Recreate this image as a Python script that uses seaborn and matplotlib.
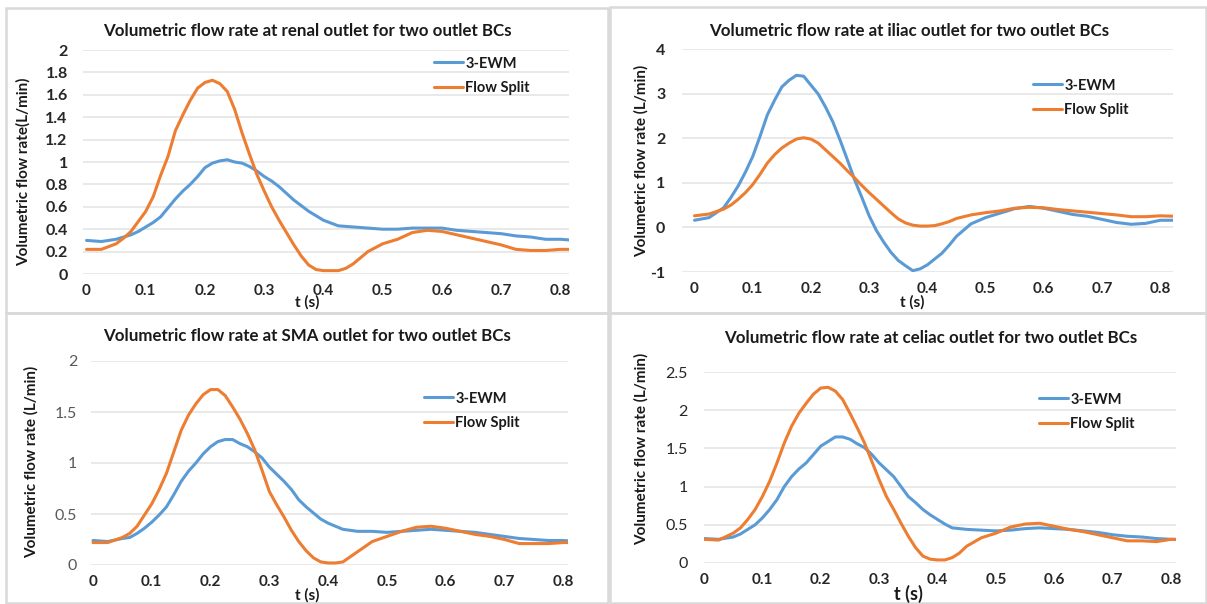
import numpy as np
import pandas as pd
import matplotlib
matplotlib.use("Agg")
import matplotlib.pyplot as plt
from matplotlib.patches import Rectangle
import seaborn as sns

# ---------------- data ----------------
T = [0, 0.025, 0.05, 0.0625, 0.075, 0.0875, 0.1, 0.1125, 0.125, 0.1375, 0.15,
     0.1625, 0.175, 0.1875, 0.2, 0.2125, 0.225, 0.2375, 0.25, 0.2625, 0.275,
     0.2875, 0.3, 0.3125, 0.325, 0.3375, 0.35, 0.3625, 0.375, 0.3875, 0.4,
     0.4125, 0.425, 0.4375, 0.45, 0.475, 0.5, 0.525, 0.55, 0.575, 0.6, 0.625,
     0.65, 0.675, 0.7, 0.725, 0.75, 0.775, 0.8, 0.825]

renal_ewm = [0.30, 0.29, 0.31, 0.33, 0.35, 0.38, 0.42, 0.46, 0.51, 0.59, 0.67,
             0.74, 0.80, 0.87, 0.95, 0.99, 1.01, 1.02, 1.00, 0.99, 0.96,
             0.92, 0.87, 0.83, 0.78, 0.72, 0.66, 0.61, 0.56, 0.52, 0.48,
             0.455, 0.43, 0.425, 0.42, 0.41, 0.40, 0.40, 0.41, 0.41, 0.41, 0.39,
             0.38, 0.37, 0.36, 0.34, 0.33, 0.31, 0.31, 0.30]
renal_split = [0.22, 0.22, 0.27, 0.32, 0.38, 0.47, 0.56, 0.69, 0.88, 1.05, 1.28,
               1.42, 1.55, 1.66, 1.71, 1.73, 1.70, 1.63, 1.47, 1.26, 1.07,
               0.89, 0.74, 0.60, 0.48, 0.37, 0.26, 0.16, 0.08, 0.04, 0.03,
               0.03, 0.03, 0.05, 0.09, 0.20, 0.27, 0.31, 0.37, 0.39, 0.38, 0.35,
               0.32, 0.29, 0.26, 0.22, 0.21, 0.21, 0.22, 0.22]

iliac_ewm = [0.16, 0.22, 0.44, 0.67, 0.93, 1.24, 1.59, 2.04, 2.52, 2.85, 3.15,
             3.30, 3.41, 3.39, 3.19, 2.99, 2.70, 2.37, 1.96, 1.52, 1.07,
             0.67, 0.26, -0.07, -0.33, -0.56, -0.74, -0.86, -0.97, -0.93, -0.84,
             -0.71, -0.58, -0.40, -0.20, 0.08, 0.22, 0.32, 0.42, 0.47, 0.43, 0.36,
             0.29, 0.25, 0.18, 0.11, 0.07, 0.09, 0.16, 0.16]
iliac_split = [0.26, 0.30, 0.41, 0.50, 0.63, 0.78, 0.96, 1.19, 1.44, 1.63, 1.78,
               1.89, 1.98, 2.01, 1.98, 1.89, 1.74, 1.59, 1.44, 1.27, 1.11,
               0.94, 0.78, 0.63, 0.48, 0.33, 0.19, 0.10, 0.05, 0.03, 0.03,
               0.04, 0.08, 0.13, 0.20, 0.28, 0.33, 0.37, 0.43, 0.45, 0.44, 0.40,
               0.37, 0.34, 0.31, 0.28, 0.24, 0.24, 0.26, 0.25]

sma_ewm = [0.24, 0.23, 0.26, 0.27, 0.31, 0.36, 0.42, 0.49, 0.57, 0.69, 0.82,
           0.92, 1.00, 1.09, 1.16, 1.21, 1.23, 1.23, 1.19, 1.16, 1.11,
           1.05, 0.96, 0.89, 0.82, 0.74, 0.64, 0.57, 0.51, 0.45, 0.41,
           0.38, 0.35, 0.34, 0.33, 0.33, 0.32, 0.33, 0.34, 0.35, 0.34, 0.33,
           0.32, 0.30, 0.28, 0.26, 0.25, 0.24, 0.24, 0.23]
sma_split = [0.22, 0.22, 0.27, 0.31, 0.38, 0.49, 0.60, 0.74, 0.90, 1.11, 1.32,
             1.47, 1.58, 1.67, 1.72, 1.72, 1.66, 1.55, 1.43, 1.29, 1.13,
             0.93, 0.72, 0.59, 0.47, 0.34, 0.23, 0.14, 0.07, 0.03, 0.02,
             0.02, 0.03, 0.08, 0.13, 0.23, 0.28, 0.33, 0.37, 0.38, 0.36, 0.33,
             0.30, 0.28, 0.25, 0.21, 0.21, 0.21, 0.22, 0.22]

celiac_ewm = [0.32, 0.31, 0.34, 0.38, 0.44, 0.50, 0.59, 0.70, 0.83, 1.00, 1.13,
              1.23, 1.31, 1.42, 1.53, 1.59, 1.65, 1.65, 1.62, 1.56, 1.51,
              1.42, 1.31, 1.22, 1.13, 1.00, 0.87, 0.79, 0.70, 0.63, 0.57,
              0.51, 0.46, 0.45, 0.44, 0.43, 0.42, 0.43, 0.45, 0.46, 0.45, 0.44,
              0.42, 0.40, 0.37, 0.35, 0.34, 0.32, 0.31, 0.31]
celiac_split = [0.31, 0.30, 0.39, 0.46, 0.57, 0.70, 0.87, 1.07, 1.31, 1.57, 1.79,
                1.96, 2.09, 2.21, 2.29, 2.30, 2.25, 2.14, 1.96, 1.77, 1.57,
                1.33, 1.09, 0.87, 0.70, 0.52, 0.35, 0.20, 0.09, 0.05, 0.04,
                0.04, 0.07, 0.13, 0.22, 0.33, 0.39, 0.47, 0.51, 0.52, 0.48, 0.44,
                0.41, 0.37, 0.33, 0.29, 0.29, 0.28, 0.31, 0.30]

series_names = ["3-EWM", "Flow Split"]
titles = ["Volumetric flow rate at renal outlet for two outlet BCs",
          "Volumetric flow rate at iliac outlet for two outlet BCs",
          "Volumetric flow rate at SMA outlet for two outlet BCs",
          "Volumetric flow rate at celiac outlet for two outlet BCs"]
ylabels = ["Volumetric flow rate(L/min)", "Volumetric flow rate (L/min)",
           "Volumetric flow rate (L/min)", "Volumetric flow rate (L/min)"]
xlabel = "t (s)"
xticks = [0, 0.1, 0.2, 0.3, 0.4, 0.5, 0.6, 0.7, 0.8]
xticklabels = ["0", "0.1", "0.2", "0.3", "0.4", "0.5", "0.6", "0.7", "0.8"]
yticks_list = [[0, 0.2, 0.4, 0.6, 0.8, 1, 1.2, 1.4, 1.6, 1.8, 2],
               [-1, 0, 1, 2, 3, 4],
               [0, 0.5, 1, 1.5, 2],
               [0, 0.5, 1, 1.5, 2, 2.5]]
yticklabels_list = [["0", "0.2", "0.4", "0.6", "0.8", "1", "1.2", "1.4", "1.6", "1.8", "2"],
                    ["-1", "0", "1", "2", "3", "4"],
                    ["0", "0.5", "1", "1.5", "2"],
                    ["0", "0.5", "1", "1.5", "2", "2.5"]]
panel_data = [(renal_ewm, renal_split), (iliac_ewm, iliac_split),
              (sma_ewm, sma_split), (celiac_ewm, celiac_split)]

# ---------------- style ----------------
sns.set_theme(style="white")
plt.rcParams["font.family"] = ["Lato", "DejaVu Sans"]
palette = {"3-EWM": "#5B9BD5", "Flow Split": "#ED7D31"}

W, H = 1207, 604
fig = plt.figure(figsize=(W / 100, H / 100), dpi=100)
fig.patch.set_facecolor("white")


def fx(px):
    return px / W


def fy(py):
    return 1 - py / H


# panel frames (pixel boxes: left, top, right, bottom)
frames = [(6, 8, 608, 313), (610, 7, 1206, 313), (6, 313, 608, 603), (610, 313, 1206, 603)]
for (l, t, r, b) in frames:
    fig.add_artist(Rectangle((fx(l), fy(b)), fx(r - l), (b - t) / H,
                             transform=fig.transFigure, fill=False,
                             edgecolor="#d9d9d9", linewidth=1.8))

# axes geometry in pixels: left, right, top, bottom ; plus data limits
axes_px = [(83, 569, 50, 274), (682, 1173, 49, 272), (91, 568, 361, 565), (704, 1176, 372, 563)]
xlims = [(-0.006, 0.8145), (-0.0215, 0.822), (-0.0034, 0.808), (0.002, 0.8085)]
ylims = [(0, 2), (-1, 4), (0, 2), (0, 2.5)]
ytick_pads = [11, 12, 10, 11.5]
ytick_colors = ["#262626", "#262626", "#595959", "#262626"]
ytick_weights = ["bold", "bold", "normal", "normal"]
title_pos = [(307, 31), (909, 31), (307, 336), (931, 338)]
ylabel_pos = [(23, 172), (641, 161), (31, 462), (641, 449)]
xlabel_pos = [(307, 302), (912, 302), (307, 595), (908, 594)]
xlabel_sizes = [11, 11, 11, 13]
legend_pos = [(434, 76), (1033, 98), (424, 411), (1039, 412)]

for i in range(4):
    l, r, t, b = axes_px[i]
    ax = fig.add_axes([fx(l), fy(b), fx(r - l), (b - t) / H])
    ewm, split = panel_data[i]
    df = pd.DataFrame({
        "t": T + T,
        "q": ewm + split,
        "series": [series_names[0]] * len(T) + [series_names[1]] * len(T),
    })
    sns.lineplot(data=df, x="t", y="q", hue="series", palette=palette,
                 errorbar=None, linewidth=2.2, ax=ax, legend=True, sort=True)
    ax.set_xlim(*xlims[i])
    ax.set_ylim(*ylims[i])
    ax.set_xticks(xticks)
    ax.set_xticklabels(xticklabels)
    ax.set_yticks(yticks_list[i])
    ax.set_yticklabels(yticklabels_list[i])
    for s in ax.spines.values():
        s.set_visible(False)
    ax.grid(axis="y", color="#e3e3e3", linewidth=1.1)
    ax.grid(axis="x", visible=False)
    ax.set_axisbelow(True)
    ax.tick_params(axis="both", length=0)
    ax.tick_params(axis="x", pad=7, labelsize=11, labelcolor="#262626")
    ax.tick_params(axis="y", pad=ytick_pads[i], labelsize=11.5, labelcolor=ytick_colors[i])
    for lab in ax.get_xticklabels():
        lab.set_fontweight("bold")
    for lab in ax.get_yticklabels():
        lab.set_fontweight(ytick_weights[i])
    ax.set_xlabel("")
    ax.set_ylabel("")
    ax.patch.set_alpha(0)

    # title, labels as figure text
    tx, ty = title_pos[i]
    fig.text(fx(tx), fy(ty), titles[i], ha="center", va="center",
             fontsize=12.2, fontweight="bold", color="#1a1a1a")
    lx, ly = ylabel_pos[i]
    fig.text(fx(lx), fy(ly), ylabels[i], ha="center", va="center", rotation=90,
             fontsize=11, fontweight="bold", color="#1a1a1a")
    xx, xy = xlabel_pos[i]
    fig.text(fx(xx), fy(xy), xlabel, ha="center", va="center",
             fontsize=xlabel_sizes[i], fontweight="bold", color="#1a1a1a")

    # legend
    gx, gy = legend_pos[i]
    leg = ax.legend(loc="center left", bbox_to_anchor=(fx(gx), fy(gy)),
                    bbox_transform=fig.transFigure, frameon=False,
                    fontsize=10.5, handlelength=2.0, handletextpad=0.15,
                    labelspacing=0.75, borderpad=0, borderaxespad=0, title=None)
    for txt in leg.get_texts():
        txt.set_fontweight("bold")
        txt.set_color("#1a1a1a")
    for ln in leg.get_lines():
        ln.set_linewidth(2.2)

fig.savefig("out.png", dpi=100, facecolor="white")
